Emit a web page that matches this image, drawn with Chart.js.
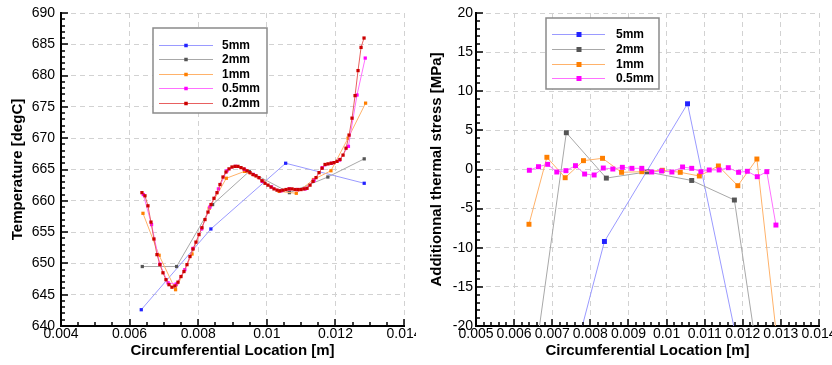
<!DOCTYPE html>
<html lang="en">

<head>
    <meta charset="UTF-8">
    <title>Temperature and thermal stress</title>
    <script src="https://cdn.jsdelivr.net/npm/chart.js"></script>
    <style>
        body {
            margin: 0;
            background: #fff;
        }

        .row {
            display: flex;
            width: 832px;
            height: 365px;
        }

        canvas {
            display: block;
        }
    </style>
</head>

<body>
    <div class="row">
        <canvas id="tempChart" width="416" height="365"></canvas>
        <canvas id="stressChart" width="416" height="365"></canvas>
    </div>
    <script>
        // mesh sizes
        const labels = ['5mm', '2mm', '1mm', '0.5mm', '0.2mm'];

        // sample locations [m] for each mesh
        const x5mm = [0.00634, 0.00837, 0.01055, 0.01284];
        const x2mm = [0.00637, 0.00737, 0.00842, 0.00949, 0.01066, 0.01178, 0.01284];
        const x1mm = [0.00639, 0.00686, 0.00734, 0.00782, 0.00832, 0.00882, 0.00935, 0.00989, 0.01036, 0.01086,
            0.01136, 0.01187, 0.01237, 0.01288];
        const x05mm = [0.0064, 0.00664, 0.00688, 0.00712, 0.00736, 0.00761, 0.00785, 0.0081, 0.00834, 0.00859,
            0.00884, 0.00909, 0.00935, 0.00961, 0.00987, 0.01014, 0.01042, 0.01066, 0.0109, 0.01112,
            0.01138, 0.01162, 0.01189, 0.01212, 0.01238, 0.01263, 0.01287];
        const x02mm = [0.00636, 0.006448, 0.006535, 0.006623, 0.00671, 0.006798, 0.006885, 0.006973, 0.00706, 0.007148,
            0.007235, 0.007323, 0.00741, 0.007498, 0.007585, 0.007673, 0.00776, 0.007848, 0.007935, 0.008023,
            0.00811, 0.008198, 0.008285, 0.008373, 0.00846, 0.008548, 0.008635, 0.008723, 0.00881, 0.008898,
            0.008985, 0.009073, 0.00916, 0.009248, 0.009335, 0.009423, 0.00951, 0.009598, 0.009685, 0.009773,
            0.00986, 0.009948, 0.010035, 0.010123, 0.01021, 0.010298, 0.010385, 0.010473, 0.01056, 0.010648,
            0.010735, 0.010823, 0.01091, 0.010998, 0.011085, 0.011173, 0.01126, 0.011348, 0.011435, 0.011523,
            0.01161, 0.011698, 0.011785, 0.011873, 0.01196, 0.012048, 0.012135, 0.012223, 0.01231, 0.012398,
            0.012485, 0.012573, 0.01266, 0.012748, 0.012835];

        // temperature [degC]
        const t5mm = [642.6, 655.5, 666.0, 662.8];
        const t2mm = [649.5, 649.5, 659.4, 664.7, 661.3, 663.8, 666.7];
        const t1mm = [658.0, 651.3, 645.8, 651.5, 658.8, 663.6, 664.7, 663.1, 661.5, 661.2, 663.4, 664.8, 670.0, 675.6];
        const t05mm = [661.0, 656.2, 649.9, 646.9, 646.7, 649.0, 652.4, 655.5, 659.0, 661.9,
            664.8, 665.5, 665.0, 664.2, 663.1, 662.2, 661.6, 661.9, 661.8, 661.9,
            663.3, 665.3, 666.0, 666.5, 668.7, 676.9, 682.8];
        const t02mm = [661.3, 660.8, 659.2, 656.6, 653.9, 651.4, 649.8, 648.5, 647.4, 646.6,
            646.2, 646.4, 647.0, 647.9, 648.7, 649.8, 651.1, 652.3, 653.4, 654.6,
            655.7, 657.0, 658.2, 659.4, 660.4, 661.3, 662.6, 663.8, 664.6, 665.1,
            665.4, 665.5, 665.5, 665.3, 665.1, 664.8, 664.5, 664.2, 664.0, 663.7,
            663.2, 662.8, 662.5, 662.2, 661.9, 661.7, 661.6, 661.7, 661.8, 661.9,
            661.9, 661.8, 661.8, 661.8, 661.9, 662.0, 662.5, 663.1, 663.7, 664.5,
            665.2, 665.8, 665.9, 666.0, 666.1, 666.3, 666.6, 667.3, 668.4, 670.5,
            673.2, 676.8, 680.8, 684.5, 686.0];

        // additional thermal stress [MPa]
        const s5mm = [-47.0, -9.2, 8.4, -45.2];
        const s2mm = [-30.4, 4.7, -1.1, -0.3, -1.4, -3.9, -38.8];
        const s1mm = [-7.0, 1.56, -1.05, 1.13, 1.43, -0.36, -0.28, -0.1, -0.36, -0.83, 0.45, -2.07, 1.34, -21.0];
        const s05mm = [-0.1, 0.36, 0.66, -0.32, -0.15, 0.49, -0.58, -0.7, 0.19, 0.06,
            0.28, 0.15, 0.15, -0.32, -0.19, -0.32, 0.32, 0.15, -0.28, -0.06,
            -0.06, 0.23, -0.36, -0.23, -0.92, -0.28, -7.1];

        // axis ticks
        const tempXTicks = [0.004, 0.006, 0.008, 0.01, 0.012, 0.014];
        const tempYTicks = [640, 645, 650, 655, 660, 665, 670, 675, 680, 685, 690];
        const stressXTicks = [0.005, 0.006, 0.007, 0.008, 0.009, 0.01, 0.011, 0.012, 0.013, 0.014];
        const stressYTicks = [-20, -15, -10, -5, 0, 5, 10, 15, 20];

        const lineColors = ['#9a9aff', '#a8a8a8', '#ffb26a', '#ff70ff', '#e86060'];
        const markColors = ['#2222ff', '#555555', '#ff7f00', '#ff00ff', '#cc0000'];

        Chart.defaults.font.family = "'Liberation Sans', Arial, sans-serif";
        Chart.defaults.color = '#000';

        const pairs = (xs, ys) => xs.map((x, i) => ({ x: x, y: ys[i] }));
        const fmt = v => String(+Number(v).toFixed(4));

        // inward major/minor ticks and boxed legend
        const frame = {
            id: 'frame',
            afterDraw(chart, args, opts) {
                const { ctx, chartArea: a, scales: { x, y } } = chart;
                ctx.save();
                ctx.strokeStyle = '#000';
                ctx.lineWidth = 1.5;
                ctx.beginPath();
                const ny = Math.round((y.max - y.min) / opts.yMinor);
                for (let i = 0; i <= ny; i++) {
                    const p = Math.round(y.getPixelForValue(y.min + i * opts.yMinor));
                    const len = i % opts.yEvery === 0 ? 7 : 4;
                    ctx.moveTo(a.left, p);
                    ctx.lineTo(a.left + len, p);
                }
                const nx = Math.round((x.max - x.min) / opts.xMinor);
                for (let i = 0; i <= nx; i++) {
                    const p = Math.round(x.getPixelForValue(x.min + i * opts.xMinor));
                    const len = i % opts.xEvery === 0 ? 7 : 4;
                    ctx.moveTo(p, a.bottom);
                    ctx.lineTo(p, a.bottom - len);
                }
                ctx.stroke();

                const lg = opts.legend;
                ctx.fillStyle = '#fff';
                ctx.fillRect(lg.x, lg.y, lg.w, lg.h);
                ctx.strokeStyle = '#8a8a8a';
                ctx.lineWidth = 1.5;
                ctx.strokeRect(lg.x, lg.y, lg.w, lg.h);
                ctx.font = "bold 12px 'Liberation Sans', Arial, sans-serif";
                ctx.textBaseline = 'middle';
                chart.data.datasets.forEach((ds, i) => {
                    const yy = Math.round(lg.rowY + i * lg.rowStep) + 0.5;
                    ctx.strokeStyle = ds.borderColor;
                    ctx.lineWidth = 1;
                    ctx.beginPath();
                    ctx.moveTo(lg.lineX0, yy);
                    ctx.lineTo(lg.lineX1, yy);
                    ctx.stroke();
                    const s = lg.mark;
                    ctx.fillStyle = ds.pointBackgroundColor;
                    ctx.fillRect(lg.markX - s / 2, yy - s / 2, s, s);
                    ctx.fillStyle = '#000';
                    ctx.fillText(ds.label, lg.textX, yy);
                });
                ctx.restore();
            }
        };

        function makeSets(xsList, ysList, radius) {
            return xsList.map((xs, i) => ({
                label: labels[i],
                data: pairs(xs, ysList[i]),
                showLine: true,
                borderColor: lineColors[i],
                borderWidth: 1,
                pointStyle: 'rect',
                pointRadius: radius,
                pointBorderWidth: 0,
                pointBackgroundColor: markColors[i],
                order: xsList.length - i,
                clip: 0
            }));
        }

        function axes(xTicks, yTicks, xTitle, yTitle, yWidth, yTitlePad, yTickPad) {
            const grid = { color: '#d2d2d2', lineWidth: 1, drawTicks: false };
            const border = { display: true, color: '#000', width: 2, dash: [5, 4] };
            const tickFont = { size: 14, lineHeight: 1.15 };
            const titleFont = { size: 15, weight: 'bold' };
            return {
                x: {
                    type: 'linear',
                    position: 'bottom',
                    min: xTicks[0],
                    max: xTicks[xTicks.length - 1],
                    afterBuildTicks: s => { s.ticks = xTicks.map(v => ({ value: v })); },
                    afterFit: s => { s.height = 39; s.paddingLeft = 0; s.paddingRight = 0; },
                    ticks: { callback: fmt, font: tickFont, padding: 0, maxRotation: 0, autoSkip: false },
                    grid: grid,
                    border: border,
                    title: { display: true, text: xTitle, font: titleFont, padding: { top: 0, bottom: 5 } }
                },
                y: {
                    type: 'linear',
                    min: yTicks[0],
                    max: yTicks[yTicks.length - 1],
                    afterBuildTicks: s => { s.ticks = yTicks.map(v => ({ value: v })); },
                    afterFit: s => { s.width = yWidth; s.paddingTop = 0; s.paddingBottom = 0; },
                    ticks: { font: tickFont, padding: yTickPad, autoSkip: false },
                    grid: grid,
                    border: border,
                    title: { display: true, text: yTitle, font: titleFont, padding: { top: yTitlePad, bottom: 0 } }
                }
            };
        }

        new Chart(document.getElementById('tempChart'), {
            type: 'scatter',
            data: {
                datasets: makeSets([x5mm, x2mm, x1mm, x05mm, x02mm], [t5mm, t2mm, t1mm, t05mm, t02mm], 2.3)
            },
            options: {
                responsive: false,
                animation: false,
                layout: { padding: { top: 13, right: 12, left: 0, bottom: 0 } },
                plugins: {
                    legend: { display: false },
                    tooltip: { enabled: false },
                    frame: {
                        xMinor: 0.0005, xEvery: 4, yMinor: 1, yEvery: 5,
                        legend: {
                            x: 153, y: 28, w: 114, h: 85, rowY: 44.5, rowStep: 14.5,
                            lineX0: 159, lineX1: 213, markX: 186, mark: 3.5, textX: 222
                        }
                    }
                },
                scales: axes(tempXTicks, tempYTicks, 'Circumferential Location [m]', 'Temperature [degC]', 61, 9, 6)
            },
            plugins: [frame]
        });

        new Chart(document.getElementById('stressChart'), {
            type: 'scatter',
            data: {
                datasets: makeSets([x5mm, x2mm, x1mm, x05mm], [s5mm, s2mm, s1mm, s05mm], 3.5)
            },
            options: {
                responsive: false,
                animation: false,
                layout: { padding: { top: 13, right: 13, left: 0, bottom: 0 } },
                plugins: {
                    legend: { display: false },
                    tooltip: { enabled: false },
                    frame: {
                        xMinor: 0.0002, xEvery: 5, yMinor: 1, yEvery: 5,
                        legend: {
                            x: 130, y: 18, w: 113, h: 71, rowY: 34, rowStep: 14.8,
                            lineX0: 136, lineX1: 189, markX: 163, mark: 5, textX: 200
                        }
                    }
                },
                scales: axes(stressXTicks, stressYTicks, 'Circumferential Location [m]', 'Additionnal thermal stress [MPa]', 60, 12, 3)
            },
            plugins: [frame]
        });
    </script>
</body>

</html>
